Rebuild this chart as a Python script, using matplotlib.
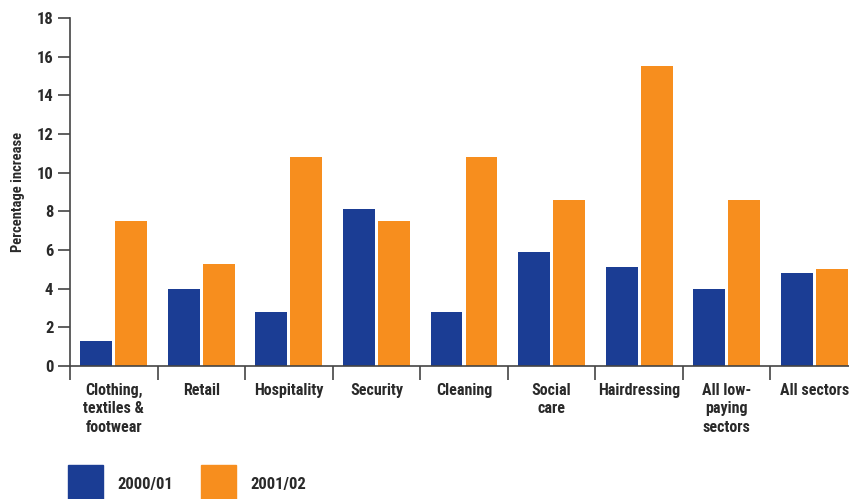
import matplotlib.pyplot as plt
from matplotlib.patches import Rectangle
import numpy as np

plt.rcParams['font.family'] = ['Roboto Condensed', 'DejaVu Sans']
plt.rcParams['font.weight'] = 'bold'
plt.rcParams['axes.labelweight'] = 'bold'

categories = ["Clothing,\ntextiles &\nfootwear", "Retail", "Hospitality", "Security",
              "Cleaning", "Social\ncare", "Hairdressing", "All low-\npaying\nsectors",
              "All sectors"]
series_names = ["2000/01", "2001/02"]
vals_0001 = [1.3, 4.0, 2.8, 8.1, 2.8, 5.9, 5.1, 4.0, 4.8]
vals_0102 = [7.5, 5.3, 10.8, 7.5, 10.8, 8.6, 15.5, 8.6, 5.0]
y_ticks = [0, 2, 4, 6, 8, 10, 12, 14, 16, 18]

blue = "#1b3d94"
orange = "#f78e1e"
axis_col = "#444444"
text_col = "#2a2a2a"

fig = plt.figure(figsize=(8.49, 4.99), dpi=100)
ax = fig.add_axes([70 / 849, 1 - 366 / 499, 788 / 849, 348 / 499])

x = np.arange(len(categories))
w = 0.365
ax.bar(x - 0.2, vals_0001, width=w, color=blue)
ax.bar(x + 0.2, vals_0102, width=w, color=orange)

ax.set_xlim(-0.5, len(categories) - 0.5)
ax.set_ylim(0, 18)
ax.set_yticks(y_ticks)
ax.tick_params(axis='y', length=9, width=1.2, color=axis_col, labelsize=12,
               labelcolor=text_col, pad=3)

# boundaries get tick marks, centres get the labels
ax.set_xticks(np.arange(len(categories) + 1) - 0.5)
ax.set_xticklabels([])
ax.set_xticks(x, minor=True)
ax.set_xticklabels(categories, minor=True, fontsize=11.5, color=text_col,
                   linespacing=1.3)
ax.tick_params(axis='x', which='major', length=10, width=1.2, color=axis_col)
ax.tick_params(axis='x', which='minor', length=0, pad=12)

for side in ['top', 'right']:
    ax.spines[side].set_visible(False)
for side in ['left', 'bottom']:
    ax.spines[side].set_color(axis_col)
    ax.spines[side].set_linewidth(1.2)

ax.set_ylabel("Percentage increase", fontsize=10.5, color=text_col)
ax.yaxis.set_label_coords(-45 / 788, 0.5)

# legend squares along the bottom edge
for i, (name, col) in enumerate(zip(series_names, [blue, orange])):
    x0 = (68 + i * 133) / 849
    fig.add_artist(Rectangle((x0, 0), 35 / 849, 34 / 499, color=col,
                             transform=fig.transFigure))
    fig.text(x0 + 49 / 849, 15 / 499, name, fontsize=12, color=text_col,
             va='center', ha='left')

fig.savefig("out.png", dpi=100)
